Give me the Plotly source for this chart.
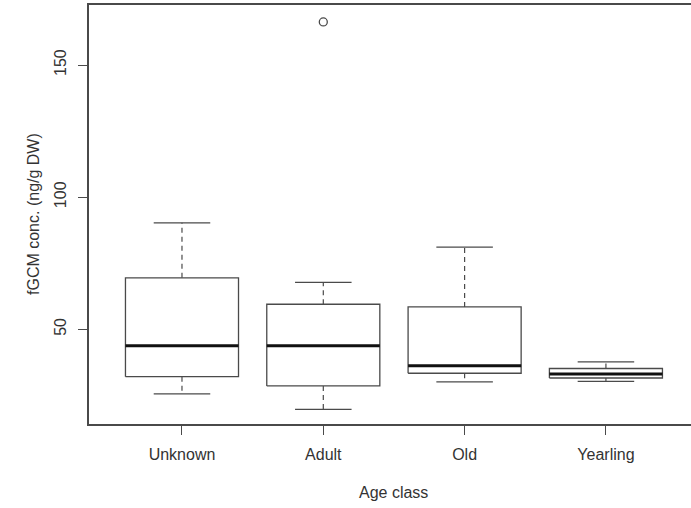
import plotly.graph_objects as go

# Age classes and box statistics (fGCM, ng/g DW)
categories = ["Unknown", "Adult", "Old", "Yearling"]
lower_whisker = [25.6, 19.7, 30.1, 30.3]
q1 = [32.1, 28.6, 33.4, 31.6]
median = [43.8, 43.8, 36.2, 33.1]
q3 = [69.5, 59.5, 58.5, 35.2]
upper_whisker = [90.3, 67.8, 81.1, 37.7]
outlier_group = [2]
outlier_value = [166.3]

box_half = 0.4     # boxwex 0.8
cap_half = 0.2     # staple half width
line_col = "#4a4a4a"
text_col = "#333333"
font_family = "Liberation Sans, Arial, sans-serif"

pos = list(range(1, len(categories) + 1))

box_x, box_y = [], []
med_x, med_y = [], []
wh_x, wh_y = [], []
cap_x, cap_y = [], []
for p, lo, a, m, b, hi in zip(pos, lower_whisker, q1, median, q3, upper_whisker):
    box_x += [p - box_half, p + box_half, p + box_half, p - box_half, p - box_half, None]
    box_y += [a, a, b, b, a, None]
    med_x += [p - box_half, p + box_half, None]
    med_y += [m, m, None]
    wh_x += [p, p, None, p, p, None]
    wh_y += [b, hi, None, a, lo, None]
    cap_x += [p - cap_half, p + cap_half, None, p - cap_half, p + cap_half, None]
    cap_y += [hi, hi, None, lo, lo, None]

fig = go.Figure()
fig.add_trace(go.Scatter(x=wh_x, y=wh_y, mode="lines",
                         line=dict(color=line_col, width=1.2, dash="5px,4px"),
                         hoverinfo="skip"))
fig.add_trace(go.Scatter(x=cap_x, y=cap_y, mode="lines",
                         line=dict(color=line_col, width=1.3), hoverinfo="skip"))
fig.add_trace(go.Scatter(x=box_x, y=box_y, mode="lines",
                         line=dict(color=line_col, width=1.3), hoverinfo="skip"))
fig.add_trace(go.Scatter(x=med_x, y=med_y, mode="lines",
                         line=dict(color="#111111", width=3), hoverinfo="skip"))
fig.add_trace(go.Scatter(x=outlier_group, y=outlier_value, mode="markers",
                         marker=dict(symbol="circle-open", size=8,
                                     color=line_col, line=dict(width=1.3)),
                         hoverinfo="skip"))

fig.update_layout(
    width=691, height=508,
    margin=dict(l=89, r=0, t=5, b=84),
    paper_bgcolor="white", plot_bgcolor="white",
    showlegend=False,
    font=dict(family=font_family, size=16, color=text_col),
    xaxis=dict(
        range=[0.342, 4.602],
        tickmode="array", tickvals=pos, ticktext=categories,
        ticks="outside", ticklen=9, tickwidth=1.2, tickcolor=line_col,
        showline=True, linecolor=line_col, linewidth=1.5, mirror=True,
        showgrid=False, zeroline=False, ticklabelstandoff=6,
    ),
    yaxis=dict(
        range=[14.2, 172.7],
        tickmode="array", tickvals=[50, 100, 150],
        ticks="outside", ticklen=9, tickwidth=1.2, tickcolor=line_col,
        tickangle=-90,
        showline=True, linecolor=line_col, linewidth=1.5,
        showgrid=False, zeroline=False, ticklabelstandoff=6,
    ),
    annotations=[
        dict(text="Age class", xref="x", x=2.5, yref="paper", y=0,
             yanchor="top", yshift=-58, showarrow=False,
             font=dict(size=16, color=text_col)),
        dict(text="fGCM conc. (ng/g DW)", xref="paper", x=0, yref="paper",
             y=0.5, xshift=-66, textangle=-90, showarrow=False,
             font=dict(size=16, color=text_col)),
    ],
)

fig.write_html("out.html")
